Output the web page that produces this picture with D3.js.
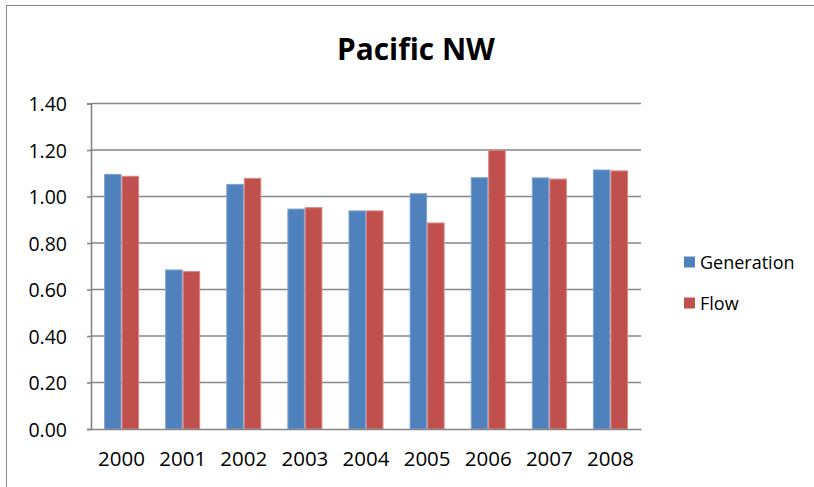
<!DOCTYPE html>
<html>
<head>
<meta charset="utf-8">
<script src="https://cdn.jsdelivr.net/npm/d3@7"></script>
<style>
  html, body { margin: 0; padding: 0; background: #fff; }
  svg { display: block; }
  text { font-family: "Open Sans", "Noto Sans", sans-serif; fill: #000; }
</style>
</head>
<body>
<svg id="chart" width="814" height="487"></svg>
<script>
const title = "Pacific NW";
const years = ["2000","2001","2002","2003","2004","2005","2006","2007","2008"];
const seriesNames = ["Generation","Flow"];
const generation = [1.095, 0.684, 1.052, 0.946, 0.938, 1.012, 1.081, 1.080, 1.114];
const flow = [1.087, 0.677, 1.078, 0.952, 0.938, 0.886, 1.199, 1.075, 1.110];
const yTicks = [0, 0.2, 0.4, 0.6, 0.8, 1.0, 1.2, 1.4];
const colors = ["#4F81BD", "#C0504D"];
const outlines = ["#7FA3D3", "#D98583"];

const svg = d3.select("#chart");

// outer chart border (cut off at right/bottom)
svg.append("rect").attr("x", 6.5).attr("y", 5.5).attr("width", 830).attr("height", 500)
  .attr("fill", "#fff").attr("stroke", "#868686").attr("stroke-width", 1);

const plot = {left: 91, right: 641, top: 103.5, bottom: 429};

const y = d3.scaleLinear().domain([0, 1.4]).range([plot.bottom, plot.top]);
const x = d3.scaleBand().domain(years).range([plot.left, plot.right])
  .paddingInner(0.427).paddingOuter(0.2135);
const xs = d3.scaleBand().domain(seriesNames).range([0, x.bandwidth()]);

// gridlines
svg.append("g").selectAll("line").data(yTicks.filter(d => d > 0)).join("line")
  .attr("x1", plot.left).attr("x2", plot.right)
  .attr("y1", d => y(d)).attr("y2", d => y(d))
  .attr("stroke", "#868686").attr("stroke-width", 1.6);

// bars
const data = years.map((yr, i) => ({year: yr, vals: [generation[i], flow[i]]}));
const groups = svg.append("g").selectAll("g").data(data).join("g")
  .attr("transform", d => `translate(${x(d.year)},0)`);
groups.selectAll("rect").data(d => d.vals.map((v, j) => ({v, j}))).join("rect")
  .attr("x", d => xs(seriesNames[d.j]) + 0.5)
  .attr("width", xs.bandwidth() - 1)
  .attr("y", d => y(d.v))
  .attr("height", d => y(0) - y(d.v))
  .attr("fill", d => colors[d.j])
  .attr("stroke", d => outlines[d.j]).attr("stroke-width", 1);

// y axis
const yAxis = d3.axisLeft(y).tickValues(yTicks).tickFormat(d3.format(".2f"))
  .tickSize(4).tickPadding(21);
const gy = svg.append("g").attr("transform", `translate(${plot.left},0)`).call(yAxis);
gy.select(".domain").attr("stroke", "#868686").attr("stroke-width", 1.6);
gy.selectAll(".tick line").attr("stroke", "#868686").attr("stroke-width", 1.6);
gy.selectAll(".tick text").attr("font-family", "Open Sans").attr("font-size", 19.5)
  .attr("fill", "#000").attr("dy", "0.36em").attr("dx", 1);

// x axis
const xAxis = d3.axisBottom(x).tickSize(0).tickPadding(22);
const gx = svg.append("g").attr("transform", `translate(0,${plot.bottom})`).call(xAxis);
gx.select(".domain").attr("stroke", "#868686").attr("stroke-width", 1.6);
gx.selectAll(".tick text").attr("font-family", "Open Sans").attr("font-size", 20.5)
  .attr("fill", "#000").attr("dy", "0.71em");

// title
const t = svg.append("text").attr("x", 416).attr("y", 60).attr("text-anchor", "middle")
  .attr("font-weight", "bold").attr("font-size", 30).text(title);
const tw = t.node().getComputedTextLength();
t.attr("font-size", 30 * 158 / tw);

// legend
const leg = svg.append("g");
seriesNames.forEach((name, i) => {
  const yy = 262 + i * 41;
  leg.append("rect").attr("x", 684).attr("y", yy - 5.5).attr("width", 11).attr("height", 11)
    .attr("fill", colors[i]);
  leg.append("text").attr("x", 700).attr("y", yy + 6.5).attr("font-size", 18).text(name);
});
</script>
</body>
</html>
